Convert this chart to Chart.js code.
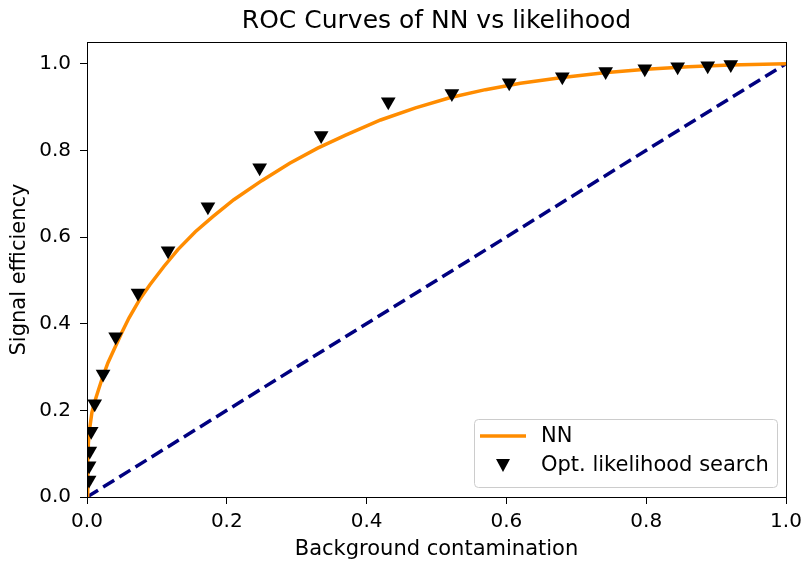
<!DOCTYPE html>
<html>
<head>
<meta charset="utf-8">
<script src="https://cdn.jsdelivr.net/npm/chart.js@4"></script>
<style>
  html, body { margin: 0; padding: 0; background: #fff; }
  #wrap { width: 804px; height: 565px; }
</style>
</head>
<body>
<div id="wrap"><canvas id="rocChart" width="804" height="565"></canvas></div>
<script>
// NN ROC curve (background contamination -> signal efficiency)
const nnX = [0, 0.001, 0.002, 0.004, 0.007, 0.011, 0.016, 0.022, 0.03, 0.04, 0.05, 0.06, 0.075, 0.09, 0.11, 0.13, 0.155, 0.18, 0.21, 0.25, 0.29, 0.33, 0.37, 0.42, 0.47, 0.52, 0.57, 0.62, 0.68, 0.74, 0.80, 0.86, 0.92, 1.0];
const nnY = [0, 0.08, 0.125, 0.16, 0.195, 0.22, 0.245, 0.275, 0.31, 0.345, 0.38, 0.413, 0.455, 0.49, 0.532, 0.571, 0.612, 0.647, 0.686, 0.73, 0.77, 0.805, 0.835, 0.87, 0.898, 0.922, 0.94, 0.955, 0.968, 0.979, 0.987, 0.993, 0.997, 1.0];

// optimised likelihood search points
const likeX = [0.003, 0.003, 0.004, 0.006, 0.011, 0.023, 0.041, 0.073, 0.116, 0.173, 0.247, 0.335, 0.431, 0.522, 0.604, 0.680, 0.742, 0.798, 0.845, 0.888, 0.921];
const likeY = [0.039, 0.072, 0.106, 0.152, 0.215, 0.284, 0.370, 0.471, 0.568, 0.670, 0.760, 0.834, 0.912, 0.931, 0.956, 0.970, 0.982, 0.988, 0.993, 0.995, 0.998];

// random guess diagonal
const diagX = [0, 1];
const diagY = [0, 1];

const xTicks = [0, 0.2, 0.4, 0.6, 0.8, 1.0];
const yTicks = [0, 0.2, 0.4, 0.6, 0.8, 1.0];

const toPoints = (xs, ys) => xs.map((x, i) => ({ x: x, y: ys[i] }));

const FONT = "'DejaVu Sans', sans-serif";
const TITLE = "ROC Curves of NN vs likelihood";

// frame, title centred over the axes, legend box inside bottom-right
const framePlugin = {
    id: "frame",
    afterDraw(chart) {
        const ctx = chart.ctx;
        const a = chart.chartArea;
        ctx.save();
        ctx.strokeStyle = "#000";
        ctx.lineWidth = 1;
        ctx.strokeRect(a.left + 0.5, a.top + 0.5, a.right - a.left, a.bottom - a.top);

        ctx.fillStyle = "#000";
        ctx.font = "25px " + FONT;
        ctx.textAlign = "center";
        ctx.textBaseline = "middle";
        ctx.fillText(TITLE, (a.left + a.right) / 2, 21);

        // legend
        const bx = 474, by = 419, bw = 303, bh = 68;
        ctx.fillStyle = "rgba(255,255,255,0.8)";
        ctx.strokeStyle = "#cccccc";
        ctx.beginPath();
        ctx.roundRect(bx + 0.5, by + 0.5, bw, bh, 4);
        ctx.fill();
        ctx.stroke();

        ctx.strokeStyle = "#ff8c00";
        ctx.lineWidth = 3.5;
        ctx.beginPath();
        ctx.moveTo(480, 436);
        ctx.lineTo(526, 436);
        ctx.stroke();

        ctx.fillStyle = "#000";
        ctx.beginPath();
        ctx.moveTo(496, 459);
        ctx.lineTo(510, 459);
        ctx.lineTo(503, 472);
        ctx.closePath();
        ctx.fill();

        ctx.font = "21px " + FONT;
        ctx.textBaseline = "middle";
        ctx.textAlign = "left";
        ctx.fillText("NN", 541, 437);
        ctx.fillText("Opt. likelihood search", 541, 466);
        ctx.restore();
    }
};

new Chart(document.getElementById("rocChart"), {
    type: "scatter",
    data: {
        datasets: [
            {
                label: "diagonal",
                data: toPoints(diagX, diagY),
                showLine: true,
                borderColor: "#000080",
                borderWidth: 3.5,
                borderDash: [13, 6],
                pointRadius: 0,
                order: 3
            },
            {
                label: "NN",
                data: toPoints(nnX, nnY),
                showLine: true,
                borderColor: "#ff8c00",
                borderWidth: 3.5,
                pointRadius: 0,
                tension: 0,
                order: 2
            },
            {
                label: "Opt. likelihood search",
                data: toPoints(likeX, likeY),
                showLine: false,
                pointStyle: "triangle",
                rotation: 180,
                pointRadius: 8.5,
                backgroundColor: "#000",
                borderColor: "#000",
                borderWidth: 0,
                order: 1
            }
        ]
    },
    options: {
        responsive: false,
        animation: false,
        layout: { padding: { left: 0, right: 18, top: 42, bottom: 0 } },
        plugins: {
            legend: { display: false },
            tooltip: { enabled: false },
            title: { display: false }
        },
        scales: {
            x: {
                type: "linear",
                min: 0,
                max: 1.0,
                afterFit(scale) {
                    scale.height = 68;
                    scale.paddingLeft = 0;
                    scale.paddingRight = 0;
                },
                afterBuildTicks(scale) { scale.ticks = xTicks.map(v => ({ value: v })); },
                ticks: {
                    color: "#000",
                    font: { family: FONT, size: 20 },
                    padding: 6,
                    maxRotation: 0,
                    callback: v => v.toFixed(1)
                },
                grid: { drawOnChartArea: false, drawTicks: true, tickLength: 7, color: "#000" },
                border: { display: true, color: "#000", width: 1 },
                title: {
                    display: true,
                    text: "Background contamination",
                    color: "#000",
                    font: { family: FONT, size: 21 },
                    padding: { top: 0, bottom: 3 }
                }
            },
            y: {
                type: "linear",
                min: 0,
                max: 1.05,
                afterFit(scale) {
                    scale.width = 87;
                    scale.paddingTop = 0;
                    scale.paddingBottom = 0;
                },
                afterBuildTicks(scale) { scale.ticks = yTicks.map(v => ({ value: v })); },
                ticks: {
                    color: "#000",
                    font: { family: FONT, size: 20 },
                    padding: 9,
                    callback: v => v.toFixed(1)
                },
                grid: { drawOnChartArea: false, drawTicks: true, tickLength: 7, color: "#000" },
                border: { display: true, color: "#000", width: 1 },
                title: {
                    display: true,
                    text: "Signal efficiency",
                    color: "#000",
                    font: { family: FONT, size: 21 },
                    padding: { top: 7, bottom: 0 }
                }
            }
        }
    },
    plugins: [framePlugin]
});
</script>
</body>
</html>
